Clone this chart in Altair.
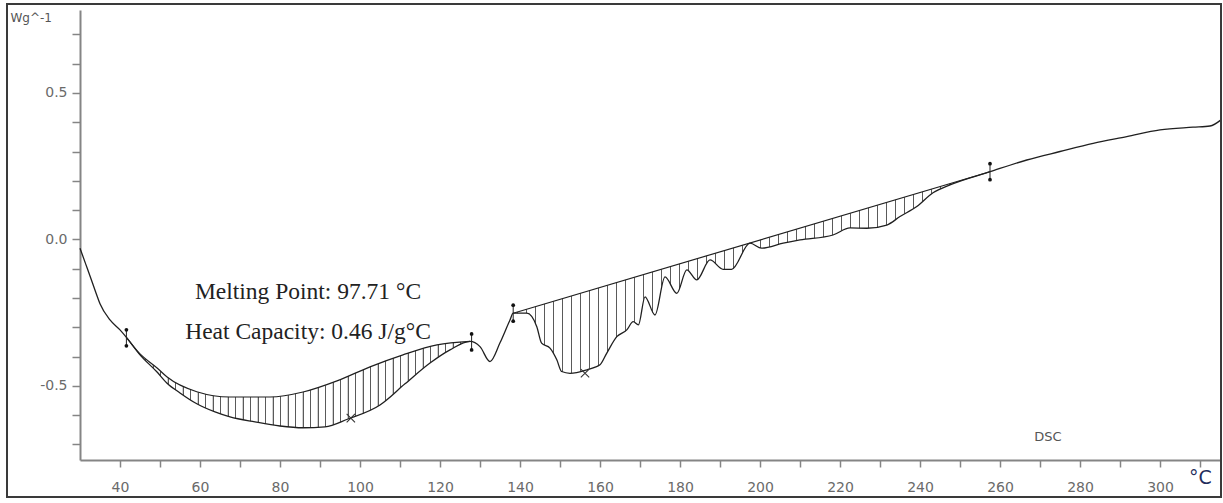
import altair as alt
import pandas as pd

# ---------------- data ----------------
# DSC curve pieces (temperature in °C, heat flow in W/g)
seg_A_T = [30, 31.5, 32.5, 34, 35, 37.5, 40]
seg_A_v = [-0.03, -0.087, -0.125, -0.183, -0.220, -0.275, -0.309]

lower_B_T = [41.7, 45.0, 49.2, 51.7, 55.0, 59.2, 63.75, 67.5, 73.75, 80, 85.75,
             91.25, 97, 105, 111.25, 117.5, 122.5, 127.5]
lower_B_v = [-0.336, -0.394, -0.452, -0.490, -0.524, -0.561, -0.589, -0.606, -0.623,
             -0.637, -0.643, -0.640, -0.613, -0.565, -0.493, -0.422, -0.377, -0.348]

seg_C_T = [130, 132.5, 135, 137.5]
seg_C_v = [-0.366, -0.417, -0.353, -0.275]

lower_D_T = [138.3, 141.7, 144.2, 145.4, 147.5, 149.2, 150.4, 152.5, 156.7, 160, 161.7,
             164.2, 166.7, 168.3, 169.6, 171.25, 173.75, 176.25, 179.2, 181.7, 184.2,
             187.5, 190.8, 192.9, 197.5, 200.4, 205.8, 210, 218.25, 222.5, 226.7, 231.7,
             235, 239.2, 243.25, 247.5, 257.5]
lower_D_v = [-0.252, -0.252, -0.298, -0.354, -0.371, -0.411, -0.451, -0.457, -0.445,
             -0.428, -0.388, -0.332, -0.309, -0.281, -0.292, -0.196, -0.258, -0.128,
             -0.184, -0.104, -0.138, -0.070, -0.102, -0.102, -0.013, -0.030, -0.013,
             -0.002, 0.015, 0.039, 0.038, 0.049, 0.078, 0.112, 0.159, 0.186, 0.231]

seg_E_T = [266.7, 275, 283.3, 291.7, 300, 308.25, 312.5, 315.25]
seg_E_v = [0.271, 0.300, 0.328, 0.351, 0.374, 0.383, 0.387, 0.408]

# integration baselines
base_B_T = [41.7, 45.0, 49.2, 51.7, 59.2, 67.5, 77.5, 85.75, 94.25, 102.5, 110.75, 119.25, 127.5]
base_B_v = [-0.336, -0.391, -0.438, -0.469, -0.520, -0.538, -0.538, -0.521, -0.483,
            -0.435, -0.394, -0.360, -0.348]
base_D_T = [138.3, 257.5]
base_D_v = [-0.252, 0.231]

# integration limit markers
limit_T = [41.6, 127.9, 138.3, 257.5]
limit_v = [-0.336, -0.350, -0.252, 0.231]

# peak markers (x)
peak_T = [97.71, 156.25]
peak_v = [-0.610, -0.457]

# annotations
note_text = ["Melting Point: 97.71 °C", "Heat Capacity: 0.46 J/g°C", "DSC"]
note_T = [87, 87, 272]
note_v = [-0.178, -0.315, -0.674]

x_ticks = list(range(40, 311, 10))
y_ticks = [round(-0.7 + 0.1 * i, 1) for i in range(15)]

# ---------------- tables ----------------
curve_T = seg_A_T + lower_B_T + seg_C_T + lower_D_T + seg_E_T
curve_v = seg_A_v + lower_B_v + seg_C_v + lower_D_v + seg_E_v
curve = pd.DataFrame({"T": curve_T, "v": curve_v, "order": range(len(curve_T))})
lowB = pd.DataFrame({"T": lower_B_T, "v": lower_B_v})
lowD = pd.DataFrame({"T": lower_D_T, "v": lower_D_v})
baseB = pd.DataFrame({"T": base_B_T, "v": base_B_v})
baseD = pd.DataFrame({"T": base_D_T, "v": base_D_v})
limits = pd.DataFrame({"T": limit_T, "v": limit_v})
peaks = pd.DataFrame({"T": peak_T, "v": peak_v})
notes = pd.DataFrame({"T": note_T, "v": note_v, "text": note_text})
frame_df = pd.DataFrame({"a": [0]})

# ---------------- scales / axes ----------------
XMIN, XMAX = 30, 315.25
YMIN, YMAX = -0.753, 0.783
W, H = 1141, 450
xs = alt.Scale(domain=[XMIN, XMAX], nice=False, zero=False)
ys = alt.Scale(domain=[YMIN, YMAX], nice=False, zero=False)

AX_COL = "#858585"
LAB_COL = "#6a6a6a"

x_axis = alt.Axis(
    values=x_ticks,
    labelExpr="(datum.value % 20 == 0 && datum.value <= 300) ? datum.label : ''",
    tickSize=7, tickWidth=1.5, tickColor=AX_COL,
    domainColor=AX_COL, domainWidth=2,
    labelFont="DejaVu Sans", labelFontSize=14, labelColor=LAB_COL, labelPadding=13,
    labelFlush=False, labelOverlap=False, grid=False,
    title="°C", titleX=1120, titleY=17, titleAlign="center", titleBaseline="middle",
    titleFont="DejaVu Sans", titleFontSize=19, titleFontWeight="normal", titleColor="#1f2d5c",
)
y_axis = alt.Axis(
    values=y_ticks,
    labelExpr="abs(datum.value-0.5)<1e-6 ? '0.5' : (abs(datum.value)<1e-6 ? '0.0' : (abs(datum.value+0.5)<1e-6 ? '-0.5' : ''))",
    tickSize=8, tickWidth=1.5, tickColor=AX_COL,
    domainColor=AX_COL, domainWidth=2,
    labelFont="DejaVu Sans", labelFontSize=14, labelColor=LAB_COL, labelPadding=5,
    labelOverlap=False, grid=False,
    title="Wg^-1", titleAngle=0, titleX=-70, titleY=7, titleAlign="left",
    titleBaseline="middle", titleFont="DejaVu Sans", titleFontSize=12,
    titleFontWeight="normal", titleColor="#555555",
)

def X():
    return alt.X("T:Q", scale=xs, axis=x_axis)

def Y():
    return alt.Y("v:Q", scale=ys, axis=y_axis)

TOP = alt.Y2(datum=YMAX)


def stripes(width_px, spacing, color="#5a5a5a", lw=1.0):
    stops = [alt.GradientStop(color="white", offset=0)]
    n = int(width_px // spacing)
    h = lw / 2 / width_px
    e = 0.0002
    for k in range(n):
        c = (k + 0.5) * spacing / width_px
        stops += [
            alt.GradientStop(color="white", offset=c - h - e),
            alt.GradientStop(color=color, offset=c - h),
            alt.GradientStop(color=color, offset=c + h),
            alt.GradientStop(color="white", offset=c + h + e),
        ]
    stops.append(alt.GradientStop(color="white", offset=1))
    return alt.Gradient(gradient="linear", stops=stops, x1=0, x2=1, y1=0, y2=0)

wB = (lower_B_T[-1] - lower_B_T[0]) * W / (XMAX - XMIN)
wD = (lower_D_T[-1] - lower_D_T[0]) * W / (XMAX - XMIN)

hatchB = alt.Chart(lowB).mark_area(fill=stripes(wB, 7.5), interpolate="monotone").encode(
    x=X(), y=Y(), y2=TOP)
hatchD = alt.Chart(lowD).mark_area(fill=stripes(wD, 9.0), interpolate="monotone").encode(
    x=X(), y=Y(), y2=TOP)
maskB = alt.Chart(baseB).mark_area(fill="white", interpolate="monotone").encode(
    x=X(), y=Y(), y2=TOP)
maskD = alt.Chart(baseD).mark_area(fill="white").encode(
    x=X(), y=Y(), y2=TOP)

LINE_COL = "#202020"
curve_line = alt.Chart(curve).mark_line(color=LINE_COL, strokeWidth=1.3, interpolate="monotone").encode(
    x=X(), y=Y(), order="order:Q")
baseB_line = alt.Chart(baseB).mark_line(color=LINE_COL, strokeWidth=1.2, interpolate="monotone").encode(
    x=X(), y=Y())
baseD_line = alt.Chart(baseD).mark_line(color=LINE_COL, strokeWidth=1.2).encode(
    x=X(), y=Y())

lim_rule = alt.Chart(limits).mark_rule(color="#222222", strokeWidth=1, yOffset=-8, y2Offset=8).encode(
    x=X(), y=Y(), y2=alt.Y2("v:Q"))
lim_top = alt.Chart(limits).mark_circle(color="#111111", size=14, opacity=1, yOffset=-8).encode(
    x=X(), y=Y())
lim_bot = alt.Chart(limits).mark_circle(color="#111111", size=14, opacity=1, yOffset=8).encode(
    x=X(), y=Y())

peak_x = alt.Chart(peaks).mark_point(shape="M-1,-1L1,1M-1,1L1,-1", size=70, filled=False,
                                     color="#333333", strokeWidth=1.1, opacity=1).encode(x=X(), y=Y())

serif_notes = alt.Chart(notes).transform_filter("datum.text != 'DSC'").mark_text(
    font="Liberation Serif", fontSize=23.5, color="#222222", align="center", baseline="middle").encode(
    x=X(), y=Y(), text="text:N")
dsc_note = alt.Chart(notes).transform_filter("datum.text == 'DSC'").mark_text(
    font="DejaVu Sans", fontSize=13, color="#555555", align="center", baseline="middle").encode(
    x=X(), y=Y(), text="text:N")

frame = alt.Chart(frame_df).mark_rect(fillOpacity=0, stroke="#3a3a3a", strokeWidth=2).encode(
    x=alt.value(-73), x2=alt.value(1141), y=alt.value(-6), y2=alt.value(487))

chart = alt.layer(
    hatchB, hatchD, maskB, maskD, curve_line, baseB_line, baseD_line,
    lim_rule, lim_top, lim_bot, peak_x, serif_notes, dsc_note, frame,
).properties(
    width=W, height=H,
    autosize=alt.AutoSizeParams(type="none"),
    padding={"left": 80, "top": 10, "right": 2, "bottom": 43},
    background="white",
).configure_view(strokeWidth=0)

chart.save("out.html", embed_options={"renderer": "svg", "actions": False})
